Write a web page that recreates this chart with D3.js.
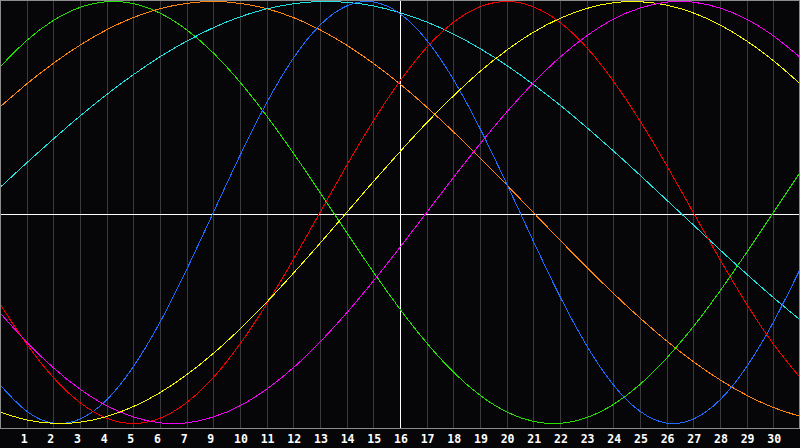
<!DOCTYPE html>
<html>
<head>
<meta charset="utf-8">
<script src="https://cdn.jsdelivr.net/npm/d3@7"></script>
<style>
  html, body { margin: 0; padding: 0; background: #060608; }
  svg { display: block; }
</style>
</head>
<body>
<div id="chart"></div>
<script>
// day positions sampled across the month
const days = [0,1,2,3,4,5,6,7,8,9,10,11,12,13,14,15,16,17,18,19,20,21,22,23,24,25,26,27,28,29,30];

// bottom tick labels (note: no "8" in the original)
const tickPositions = [1,2,3,4,5,6,7,8,9,10,11,12,13,14,15,16,17,18,19,20,21,22,23,24,25,26,27,28,29];
const tickLabels = ["1","2","3","4","5","6","7","9","10","11","12","13","14","15","16","17","18","19","20","21","22","23","24","25","26","27","28","29","30"];

const todayPosition = 15;

// cycle values, -1..1
const physical = [-0.817,-0.942,-0.998,-0.979,-0.888,-0.731,-0.520,-0.270,0.000,0.270,0.520,0.731,0.888,0.979,0.998,0.942,0.817,0.631,0.398,0.136,-0.136,-0.398,-0.631,-0.817,-0.942,-0.998,-0.979,-0.888,-0.731,-0.520,-0.270];
const emotional = [-0.434,-0.623,-0.782,-0.901,-0.975,-1.000,-0.975,-0.901,-0.782,-0.623,-0.434,-0.223,0.000,0.223,0.434,0.623,0.782,0.901,0.975,1.000,0.975,0.901,0.782,0.623,0.434,0.223,0.000,-0.223,-0.434,-0.623,-0.782];
const intellectual = [0.690,0.815,0.910,0.972,0.999,0.990,0.945,0.866,0.756,0.618,0.458,0.282,0.095,-0.095,-0.282,-0.458,-0.618,-0.756,-0.866,-0.945,-0.990,-0.999,-0.972,-0.910,-0.815,-0.690,-0.541,-0.372,-0.189,0.000,0.189];
const intuitive = [-0.476,-0.614,-0.736,-0.837,-0.916,-0.969,-0.997,-0.997,-0.969,-0.916,-0.837,-0.736,-0.614,-0.476,-0.325,-0.165,0.000,0.165,0.325,0.476,0.614,0.736,0.837,0.916,0.969,0.997,0.997,0.969,0.916,0.837,0.736];
const aesthetic = [-0.946,-0.983,-0.999,-0.994,-0.967,-0.920,-0.854,-0.769,-0.668,-0.552,-0.425,-0.288,-0.146,0.000,0.146,0.288,0.425,0.552,0.668,0.769,0.854,0.920,0.967,0.994,0.999,0.983,0.946,0.889,0.813,0.720,0.611];
const awareness = [0.500,0.609,0.707,0.793,0.866,0.924,0.966,0.991,1.000,0.991,0.966,0.924,0.866,0.793,0.707,0.609,0.500,0.383,0.259,0.131,0.000,-0.131,-0.259,-0.383,-0.500,-0.609,-0.707,-0.793,-0.866,-0.924,-0.966];
const spiritual = [0.118,0.235,0.348,0.457,0.559,0.653,0.738,0.812,0.876,0.927,0.965,0.989,1.000,0.996,0.979,0.947,0.903,0.846,0.777,0.697,0.607,0.509,0.403,0.292,0.177,0.059,-0.059,-0.177,-0.292,-0.403,-0.509];

const seriesNames = ["intellectual", "awareness", "spiritual", "physical", "emotional", "aesthetic", "intuitive"];
const seriesValues = [intellectual, awareness, spiritual, physical, emotional, aesthetic, intuitive];
const seriesColors = ["#22e000", "#ff8410", "#20e0e0", "#1e6cff", "#f00000", "#f8f800", "#f000f0"];

const width = 800, height = 448;
const plotHeight = 428;

const svg = d3.select("#chart").append("svg")
    .attr("width", width)
    .attr("height", height);

svg.append("rect")
    .attr("width", width)
    .attr("height", height)
    .attr("fill", "#060608");

const x = d3.scaleLinear()
    .domain([0, 30])
    .range([0, width]);

const y = d3.scaleLinear()
    .domain([-1, 1])
    .range([423.5, 1.5]);

// vertical day grid
svg.append("g")
    .selectAll("line")
    .data(tickPositions.filter(p => p !== todayPosition))
    .join("line")
    .attr("x1", d => Math.round(x(d)) + 0.5)
    .attr("x2", d => Math.round(x(d)) + 0.5)
    .attr("y1", 0)
    .attr("y2", plotHeight)
    .attr("stroke", "#3a3a3e")
    .attr("stroke-width", 1)
    .attr("shape-rendering", "crispEdges");

// zero line and today line
svg.append("line")
    .attr("x1", 0).attr("x2", width)
    .attr("y1", 214.5).attr("y2", 214.5)
    .attr("stroke", "#ffffff")
    .attr("shape-rendering", "crispEdges");

svg.append("line")
    .attr("x1", x(todayPosition) + 0.5).attr("x2", x(todayPosition) + 0.5)
    .attr("y1", 0).attr("y2", plotHeight)
    .attr("stroke", "#ffffff")
    .attr("shape-rendering", "crispEdges");

// curves
const line = d3.line()
    .x((d, i) => x(days[i]))
    .y(d => y(d))
    .curve(d3.curveNatural);

svg.append("g")
    .selectAll("path")
    .data(seriesValues)
    .join("path")
    .attr("fill", "none")
    .attr("stroke", (d, i) => seriesColors[i])
    .attr("stroke-width", 1)
    .attr("shape-rendering", "crispEdges")
    .attr("d", d => line(d));

// frame + baseline
svg.append("rect")
    .attr("x", 0.5).attr("y", 0.5)
    .attr("width", width - 1).attr("height", plotHeight)
    .attr("fill", "none")
    .attr("stroke", "#8c8c8c")
    .attr("shape-rendering", "crispEdges");

// tick labels
svg.append("g")
    .selectAll("text")
    .data(tickPositions)
    .join("text")
    .attr("x", d => x(d) - 6)
    .attr("y", 443)
    .attr("fill", "#ffffff")
    .style("font-family", "'DejaVu Sans Mono', monospace")
    .style("font-weight", "bold")
    .style("font-size", "11.5px")
    .text((d, i) => tickLabels[i]);
</script>
</body>
</html>
